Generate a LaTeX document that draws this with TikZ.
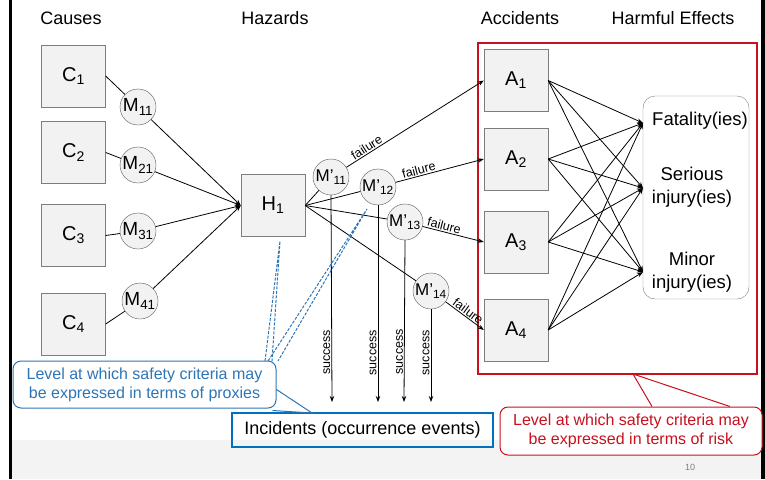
\documentclass[tikz,border=0pt]{standalone}
\usepackage{fontspec}
\setmainfont{Liberation Sans}
\usetikzlibrary{arrows.meta}
\definecolor{boxfill}{RGB}{242,242,242}
\definecolor{boxline}{RGB}{125,125,125}
\definecolor{riskred}{RGB}{200,16,30}
\definecolor{proxyblue}{RGB}{46,117,182}
\definecolor{incblue}{RGB}{0,112,192}
\definecolor{footgray}{RGB}{243,243,243}
\begin{document}
\begin{tikzpicture}[x=1pt,y=-1pt,
    >={Stealth[length=6pt,width=4.5pt]},
    title/.style={font=\fontsize{18}{20}\selectfont},
    box/.style={draw=boxline,fill=boxfill,minimum width=64pt,minimum height=62pt,font=\fontsize{20}{22}\selectfont},
    mnode/.style={circle,draw=boxline!70!black,fill=boxfill,minimum size=36pt,inner sep=0pt,font=\fontsize{19}{20}\selectfont},
    mpnode/.style={mnode,font=\fontsize{17}{18}\selectfont},
    link/.style={line width=0.8pt},
    lab/.style={font=\fontsize{12.5}{13}\selectfont,inner sep=1pt},
    efftext/.style={font=\fontsize{18.5}{23}\selectfont,align=center,inner sep=0pt},
    callout/.style={rounded corners=8pt,line width=1pt,fill=white,minimum width=263pt,minimum height=47pt,align=center,font=\fontsize{16}{19}\selectfont},
    pointer/.style={proxyblue,line width=1pt,dash pattern=on 3pt off 1.5pt}]
    \useasboundingbox (0,0) rectangle (765,479);
    \fill[footgray] (12,440) rectangle (761,479);
    \fill[black] (9,0) rectangle (12,479);
    \fill[black] (761,0) rectangle (765,479);
    \node[text=gray,font=\fontsize{9}{10}\selectfont] (pagenum) at (690,467) {10};

    \node[title] (causes) at (71,18) {Causes};
    \node[title] (hazards) at (275,18) {Hazards};
    \node[title] (accidents) at (520,18) {Accidents};
    \node[title] (effects) at (673,18) {Harmful Effects};

    \node[draw=riskred,line width=1.6pt,minimum width=279pt,minimum height=331pt,inner sep=0pt] (zone) at (617.5,208.5) {};
    \coordinate (riskapex) at (633,374);

    \node[box] (c1) at (73.5,76) {C\textsubscript{1}};
    \node[box] (c2) at (73.5,152.5) {C\textsubscript{2}};
    \node[box] (c3) at (73.5,235.5) {C\textsubscript{3}};
    \node[box] (c4) at (73.5,324) {C\textsubscript{4}};
    \node[mnode] (m11) at (138,107) {M\textsubscript{11}};
    \node[mnode] (m21) at (138,165) {M\textsubscript{21}};
    \node[mnode] (m31) at (138,231) {M\textsubscript{31}};
    \node[mnode] (m41) at (140,301) {M\textsubscript{41}};
    \node[box] (h1) at (273,205.5) {H\textsubscript{1}};

    \draw[link] (c1.east) -- (m11);
    \draw[link] (c2.east) -- (m21);
    \draw[link] (c3.east) -- (m31);
    \draw[link] (c4.east) -- (m41);
    \draw[link,->] (m11) -- (h1.west);
    \draw[link,->] (m21) -- (h1.west);
    \draw[link,->] (m31) -- (h1.west);
    \draw[link,->] (m41) -- (h1.west);

    \node[mpnode] (mp11) at (331,177) {M’\textsubscript{11}};
    \node[mpnode] (mp12) at (378,187) {M’\textsubscript{12}};
    \node[mpnode] (mp13) at (405,222) {M’\textsubscript{13}};
    \node[mpnode] (mp14) at (431,291) {M’\textsubscript{14}};
    \node[box] (a1) at (516,80.5) {A\textsubscript{1}};
    \node[box] (a2) at (516,159) {A\textsubscript{2}};
    \node[box] (a3) at (516,242) {A\textsubscript{3}};
    \node[box] (a4) at (516,330) {A\textsubscript{4}};

    \draw[link] (h1.east) -- (mp11);
    \draw[link] (h1.east) -- (mp12);
    \draw[link] (h1.east) -- (mp13);
    \draw[link] (h1.east) -- (mp14);
    \draw[link,->] (mp11) -- (a1.west) node[lab,pos=0.17,above,sloped] {failure};
    \draw[link,->] (mp12) -- (a2.west) node[lab,pos=0.28,above,sloped] {failure};
    \draw[link,->] (mp13) -- (a3.west) node[lab,pos=0.33,above,sloped] {failure};
    \draw[link,->] (mp14) -- (a4.west) node[lab,pos=0.5,above,sloped] {failure};

    \node[draw=incblue,line width=1.6pt,minimum width=261pt,minimum height=34pt,font=\fontsize{18}{20}\selectfont] (inc) at (362.5,430) {Incidents (occurrence events)};
    \coordinate (s11) at (332,402);
    \coordinate (s12) at (378,402);
    \coordinate (s13) at (404,402);
    \coordinate (s14) at (431,402);
    \draw[link,->] (mp11.south) -- (s11) node[lab,pos=0.76,rotate=90,anchor=south] {success};
    \draw[link,->] (mp12.south) -- (s12) node[lab,pos=0.75,rotate=90,anchor=south] {success};
    \draw[link,->] (mp13.south) -- (s13) node[lab,pos=0.69,rotate=90,anchor=south] {success};
    \draw[link,->] (mp14.south) -- (s14) node[lab,pos=0.47,rotate=90,anchor=south] {success};

    \node[draw=boxline,rounded corners=12pt,minimum width=106pt,minimum height=203pt] (eff) at (696,197.5) {};
    \coordinate (fat) at (643,123);
    \coordinate (ser) at (643,188);
    \coordinate (minr) at (643,272);
    \node[efftext] (fattxt) at (700,121) {Fatality(ies)};
    \node[efftext] (sertxt) at (692,187) {Serious\\injury(ies)};
    \node[efftext] (mintxt) at (692,272) {Minor\\injury(ies)};
    \foreach \a in {a1,a2,a3,a4}
        \foreach \e in {fat,ser,minr}
            \draw[link,->] (\a.east) -- (\e);

    \node[callout,draw=proxyblue,text=proxyblue] (proxy) at (144.5,384.5) {Level at which safety criteria may\\be expressed in terms of proxies};
    \coordinate (hazpt) at (280,241);
    \coordinate (barrierpt) at (367,209);
    \coordinate (proxytip) at (312,413);
    \draw[pointer] (265,361) -- (hazpt) -- (272,361);
    \draw[pointer] (268,361) -- (barrierpt) -- (278,361);
    \draw[proxyblue,line width=1pt] ([yshift=-5pt]proxy.east) -- (proxytip) -- ([xshift=-4pt,yshift=-2pt]proxy.south east);

    \node[callout,draw=riskred,text=riskred,minimum width=262pt,minimum height=48pt] (risk) at (631,431) {Level at which safety criteria may\\be expressed in terms of risk};
    \draw[riskred,line width=1pt] ([xshift=21pt]risk.north) -- (riskapex) -- ([xshift=99pt]risk.north);
\end{tikzpicture}
\end{document}
